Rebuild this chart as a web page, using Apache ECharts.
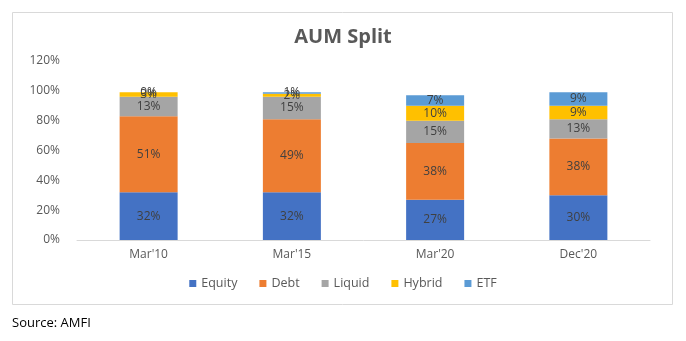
<!DOCTYPE html>
<html>
<head>
<meta charset="utf-8">
<script src="https://cdn.jsdelivr.net/npm/echarts@6/dist/echarts.min.js"></script>
<style>
  html, body { margin: 0; padding: 0; background: #fff; }
  #chart { width: 686px; height: 341px; }
</style>
</head>
<body>
<div id="chart"></div>
<script>
// AUM split by category (% of total)
const categories = ["Mar'10", "Mar'15", "Mar'20", "Dec'20"];
const equity = [32, 32, 27, 30];
const debt   = [51, 49, 38, 38];
const liquid = [13, 15, 15, 13];
const hybrid = [3, 2, 10, 9];
const etf    = [0, 1, 7, 9];
const yTicks = [0, 20, 40, 60, 80, 100, 120];

const seriesDefs = [
  { name: 'Equity', data: equity, color: '#4472C4' },
  { name: 'Debt',   data: debt,   color: '#ED7D31' },
  { name: 'Liquid', data: liquid, color: '#A5A5A5' },
  { name: 'Hybrid', data: hybrid, color: '#FFC000' },
  { name: 'ETF',    data: etf,    color: '#5B9BD5' }
];

const font = '"Open Sans", "Noto Sans", sans-serif';

const chart = echarts.init(document.getElementById('chart'), null, { renderer: 'canvas' });

chart.setOption({
  animation: false,
  backgroundColor: '#ffffff',
  graphic: [
    {
      type: 'rect',
      shape: { x: 12.5, y: 12.5, width: 660, height: 292 },
      style: { fill: 'none', stroke: '#D9D9D9', lineWidth: 1 },
      silent: true
    },
    {
      type: 'text',
      left: 12,
      top: 317,
      style: { text: 'Source: AMFI', font: '13px ' + font, fill: '#000000' }
    }
  ],
  title: {
    text: 'AUM Split',
    left: 'center',
    top: 22,
    textStyle: { fontFamily: font, fontSize: 20, fontWeight: 'bold', color: '#595959' }
  },
  legend: {
    bottom: 46,
    left: 'center',
    itemWidth: 7,
    itemHeight: 7,
    itemGap: 22,
    icon: 'rect',
    textStyle: { fontFamily: font, fontSize: 12.5, color: '#595959' },
    data: seriesDefs.map(s => s.name)
  },
  grid: { left: 77, right: 36, top: 61, bottom: 101, containLabel: false },
  xAxis: {
    type: 'category',
    data: categories,
    axisLine: { lineStyle: { color: '#D9D9D9' } },
    axisTick: { show: false },
    axisLabel: { fontFamily: font, fontSize: 12, color: '#595959', margin: 9 }
  },
  yAxis: {
    type: 'value',
    min: yTicks[0],
    max: yTicks[yTicks.length - 1],
    interval: yTicks[1] - yTicks[0],
    splitLine: { show: false },
    axisLine: { show: false },
    axisTick: { show: false },
    axisLabel: { fontFamily: font, fontSize: 12, color: '#595959', margin: 17, formatter: '{value}%' }
  },
  series: seriesDefs.map(s => ({
    name: s.name,
    type: 'bar',
    stack: 'aum',
    barWidth: 58,
    data: s.data,
    itemStyle: { color: s.color },
    label: {
      show: true,
      position: 'inside',
      formatter: p => p.value + '%',
      fontFamily: font,
      fontSize: 12,
      color: '#404040'
    }
  }))
});
</script>
</body>
</html>
